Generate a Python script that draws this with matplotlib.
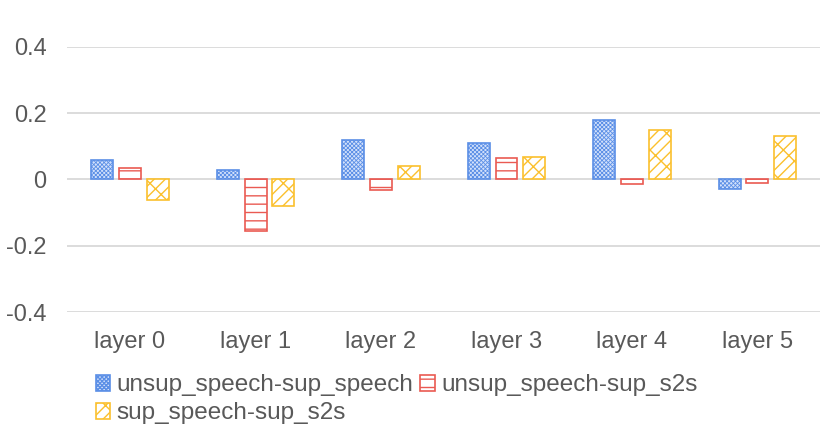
import matplotlib.pyplot as plt
import numpy as np

plt.rcParams['font.family'] = ['Liberation Sans', 'DejaVu Sans']
plt.rcParams['hatch.linewidth'] = 1.0

# data
layers = ['layer 0', 'layer 1', 'layer 2', 'layer 3', 'layer 4', 'layer 5']
unsup_speech_sup_speech = [0.06, 0.03, 0.12, 0.11, 0.178, -0.03]
unsup_speech_sup_s2s = [0.036, -0.157, -0.033, 0.066, -0.015, -0.012]
sup_speech_sup_s2s = [-0.063, -0.08, 0.042, 0.069, 0.15, 0.13]
series_names = ['unsup_speech-sup_speech', 'unsup_speech-sup_s2s', 'sup_speech-sup_s2s']

fig = plt.figure(figsize=(8.31, 4.42), dpi=100)
ax = fig.add_axes([0.081, 0.294, 0.906, 0.6])

x = np.arange(len(layers))
w = 0.175
step = 0.222

b1 = ax.bar(x - step, unsup_speech_sup_speech, w, facecolor='#d3e1fb',
            edgecolor='#5b8fe6', hatch='xxxxxxxx', linewidth=1.2, zorder=3)
b2 = ax.bar(x, unsup_speech_sup_s2s, w, facecolor='white',
            edgecolor='#ea5a52', hatch='--', linewidth=1.2, zorder=3)
b3 = ax.bar(x + step, sup_speech_sup_s2s, w, facecolor='white',
            edgecolor='#fbc02d', hatch='///\\', linewidth=1.2, zorder=3)
for p in b1:
    if hasattr(p, 'set_hatch_linewidth'):
        p.set_hatch_linewidth(0.6)

ax.set_ylim(-0.4, 0.4)
ax.set_xlim(-0.5, 5.5)
ax.set_yticks([-0.4, -0.2, 0, 0.2, 0.4])
ax.set_yticklabels(['-0.4', '-0.2', '0', '0.2', '0.4'])
ax.set_xticks(x)
ax.set_xticklabels(layers)
ax.grid(axis='y', color='#d9d9d9', linewidth=1.3, zorder=0)
ax.tick_params(length=0, labelsize=17, colors='#595959')
ax.tick_params(axis='x', pad=14)
ax.tick_params(axis='y', pad=15)
for s in ax.spines.values():
    s.set_visible(False)

# column-major legend: blue, yellow in column 1, red in column 2
fig.legend([b1, b3, b2], [series_names[0], series_names[2], series_names[1]],
           ncol=2, loc='upper left', bbox_to_anchor=(0.115, 0.153),
           frameon=False, fontsize=17.5, labelcolor='#595959',
           handlelength=0.6, handleheight=0.6, handletextpad=0.25,
           columnspacing=0.3, labelspacing=0.25, borderaxespad=0, borderpad=0)

fig.savefig('out.png', dpi=100)
